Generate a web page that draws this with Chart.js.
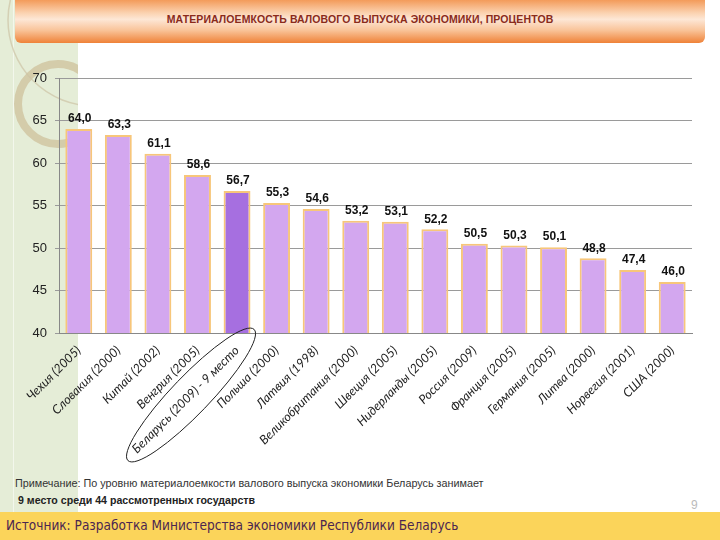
<!DOCTYPE html>
<html>
<head>
<meta charset="utf-8">
<script src="https://cdn.jsdelivr.net/npm/chart.js@4"></script>
<style>
  html,body{margin:0;padding:0;width:720px;height:540px;overflow:hidden;background:#fff;font-family:"Liberation Sans",Arial,sans-serif;}
  #green{position:absolute;left:0;top:0;width:78px;height:512px;background:#e5edd7;overflow:hidden;}
  #gline{position:absolute;left:13px;top:0;width:1px;height:512px;background:#f3f7ec;}
  #banner{position:absolute;left:15px;top:0;width:690px;height:43px;border-radius:0 0 6px 6px;
    background:linear-gradient(to bottom,#f39b5a 0%,#fbd2b0 30%,#fde7d6 45%,#f9c49a 70%,#ef8238 100%);}
  #title{position:absolute;left:15px;top:13px;width:690px;text-align:center;font-size:10.5px;font-weight:bold;color:#8a2b1c;letter-spacing:0.1px;}
  #note1{position:absolute;left:15px;top:477px;font-size:10.8px;color:#333;}
  #note2{position:absolute;left:18px;top:494px;font-size:10.6px;font-weight:bold;color:#222;}
  #pnum{position:absolute;left:691px;top:498px;font-size:12px;color:#bbb;}
  #foot{position:absolute;left:0;top:512px;width:720px;height:28px;background:#fbd45a;}
  #src{position:absolute;left:6px;top:517px;font-family:"DejaVu Sans Condensed","DejaVu Sans",sans-serif;font-stretch:condensed;font-size:13.5px;color:#4b2650;}
  #wrap{position:absolute;left:0;top:0;width:720px;height:540px;}
</style>
</head>
<body>
<div id="green"><div id="gline"></div></div>
<div id="banner"></div>
<div id="title">МАТЕРИАЛОЕМКОСТЬ ВАЛОВОГО ВЫПУСКА ЭКОНОМИКИ, ПРОЦЕНТОВ</div>
<div id="note1">Примечание: По уровню материалоемкости валового выпуска экономики Беларусь занимает</div>
<div id="note2">9 место среди 44 рассмотренных государств</div>
<div id="pnum">9</div>
<div id="foot"></div>
<div id="src">Источник: Разработка Министерства экономики Республики Беларусь</div>
<div id="wrap"><canvas id="c" width="720" height="540"></canvas></div>
<script>
const categories = [
  "Чехия (2005)", "Словакия (2000)", "Китай (2002)", "Венгрия (2005)",
  "Беларусь (2009) - 9 место", "Польша (2000)", "Латвия (1998)", "Великобритания (2000)",
  "Швеция (2005)", "Нидерланды (2005)", "Россия (2009)", "Франция (2005)",
  "Германия (2005)", "Литва (2000)", "Норвегия (2001)", "США (2000)"
];
const values = [64.0, 63.3, 61.1, 58.6, 56.7, 55.3, 54.6, 53.2, 53.1, 52.2, 50.5, 50.3, 50.1, 48.8, 47.4, 46.0];
const highlightIndex = 4;
const yMin = 40, yMax = 70, yStep = 5;

const fillColors = values.map((v, i) => i === highlightIndex ? '#a66fe0' : '#d3a7ef');

const decor = {
  id: 'decor',
  beforeDraw(chart) {
    const ctx = chart.ctx;
    ctx.save();
    ctx.beginPath();
    ctx.rect(0, 0, 78, 512);
    ctx.clip();
    ctx.strokeStyle = 'rgba(205,192,155,0.75)';
    ctx.lineWidth = 8;
    ctx.beginPath();
    ctx.arc(58, 104, 40, 0, Math.PI * 2);
    ctx.stroke();
    ctx.strokeStyle = 'rgba(205,195,165,0.7)';
    ctx.lineWidth = 1.5;
    ctx.beginPath();
    ctx.arc(94, 20, 86, 0, Math.PI * 2);
    ctx.stroke();
    ctx.restore();
  }
};

const valueLabels = {
  id: 'valueLabels',
  afterDatasetsDraw(chart) {
    const ctx = chart.ctx;
    const meta = chart.getDatasetMeta(0);
    ctx.save();
    ctx.font = 'bold 12px "Liberation Sans", Arial, sans-serif';
    ctx.fillStyle = '#111';
    ctx.textAlign = 'center';
    ctx.textBaseline = 'bottom';
    meta.data.forEach((bar, i) => {
      ctx.fillText(values[i].toFixed(1).replace('.', ','), bar.x + 1, bar.y - 4);
    });
    ctx.restore();
  }
};

const ellipsePlugin = {
  id: 'ellipse',
  afterDraw(chart) {
    const ctx = chart.ctx;
    const x = chart.scales.x.getPixelForValue(highlightIndex);
    const cy = chart.chartArea.bottom + 62;
    ctx.save();
    ctx.strokeStyle = '#222';
    ctx.lineWidth = 1;
    ctx.beginPath();
    ctx.ellipse(x - 46, cy, 91, 19, -Math.PI / 4 - 0.02, 0, Math.PI * 2);
    ctx.stroke();
    ctx.restore();
  }
};

new Chart(document.getElementById('c'), {
  type: 'bar',
  data: {
    labels: categories,
    datasets: [{
      data: values,
      backgroundColor: fillColors,
      borderColor: '#f7c67a',
      borderWidth: 2,
      barPercentage: 0.68,
      categoryPercentage: 1.0
    }]
  },
  options: {
    responsive: false,
    animation: false,
    layout: { padding: { left: 0, right: 28, top: 78, bottom: 0 } },
    plugins: { legend: { display: false }, tooltip: { enabled: false } },
    scales: {
      x: {
        afterFit(scale) { scale.height = 207; },
        grid: { display: false },
        border: { color: '#888' },
        ticks: {
          minRotation: 45, maxRotation: 45, autoSkip: false,
          color: '#222',
          font: { family: 'Lato, "Open Sans", sans-serif', size: 12.5, style: 'italic' },
          padding: 2
        }
      },
      y: {
        min: yMin, max: yMax,
        afterFit(scale) { scale.width = 59; },
        grid: { color: '#9a9a9a', tickLength: 4 },
        border: { color: '#888' },
        ticks: {
          stepSize: yStep,
          color: '#222',
          font: { family: '"Liberation Sans", Arial, sans-serif', size: 13 },
          padding: 8
        }
      }
    }
  },
  plugins: [decor, valueLabels, ellipsePlugin]
});
</script>
</body>
</html>
